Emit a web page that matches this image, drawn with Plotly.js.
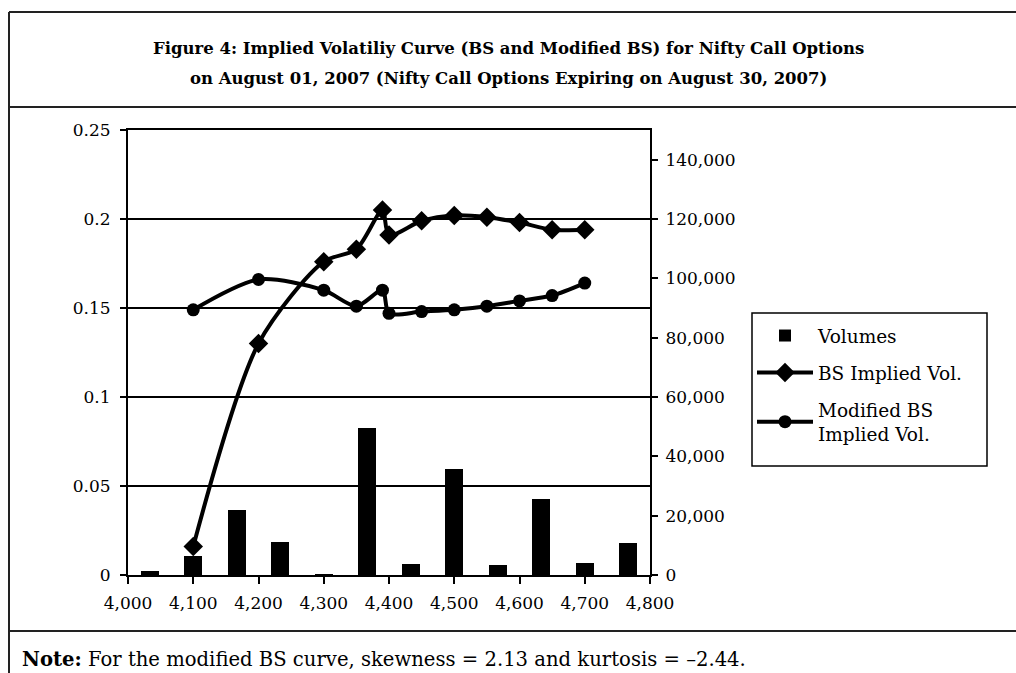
<!DOCTYPE html>
<html>
<head>
<meta charset="utf-8">
<script src="https://cdn.plot.ly/plotly-3.0.1.min.js"></script>
<style>
html,body{margin:0;padding:0;background:#fff;}
#chart{width:1016px;height:673px;}
</style>
</head>
<body>
<div id="chart"></div>
<script>
// Strike prices (Nifty call options)
var strikes = [4100, 4200, 4300, 4350, 4390, 4400, 4450, 4500, 4550, 4600, 4650, 4700];
// BS implied volatility
var bsVol = [0.016, 0.130, 0.176, 0.183, 0.205, 0.191, 0.199, 0.202, 0.201, 0.198, 0.194, 0.194];
// Modified BS implied volatility
var modVol = [0.149, 0.166, 0.160, 0.151, 0.160, 0.147, 0.148, 0.149, 0.151, 0.154, 0.157, 0.164];
// Traded volumes (one bar per strike, drawn on a category axis)
var volumes = [1500, 6400, 21800, 11000, 400, 49400, 3700, 35900, 3400, 25700, 4000, 10900];
var strikeLabels = strikes.map(function (s) { return String(s); });

var titleLine1 = "Figure 4: Implied Volatiliy Curve (BS and Modified BS) for Nifty Call Options";
var titleLine2 = "on August 01, 2007 (Nifty Call Options Expiring on August 30, 2007)";
var noteText = "<b>Note:</b> For the modified BS curve, skewness = 2.13 and kurtosis = \u20132.44.";

var FONT = "DejaVu Serif, Liberation Serif, serif";

// plot area in px: left 128, right 650, top 130, bottom 575
var L = 128, R = 650, T = 130, B = 575;
function px(x) { return (x - L) / (R - L); }
function py(y) { return (B - y) / (B - T); }

var traces = [
  {
    type: 'bar', name: 'Volumes',
    x: strikeLabels, y: volumes,
    xaxis: 'x', yaxis: 'y',
    width: 0.42,
    marker: { color: '#000', line: { width: 0 } },
    legendgroup: 'a'
  },
  {
    type: 'scatter', mode: 'lines+markers', name: 'BS Implied Vol.',
    x: strikes, y: bsVol,
    xaxis: 'x2', yaxis: 'y2',
    line: { color: '#000', width: 4, shape: 'spline', smoothing: 0.8 },
    marker: { symbol: 'diamond', size: 15, color: '#000' },
    legendgroup: 'b'
  },
  {
    type: 'scatter', mode: 'lines+markers', name: 'Modified BS<br>Implied Vol.',
    x: strikes, y: modVol,
    xaxis: 'x2', yaxis: 'y2',
    line: { color: '#000', width: 4, shape: 'spline', smoothing: 0.8 },
    marker: { symbol: 'circle', size: 13, color: '#000' },
    legendgroup: 'c'
  }
];

var tickFont = { family: FONT, size: 17, color: '#000' };

var layout = {
  width: 1016, height: 673,
  paper_bgcolor: '#fff', plot_bgcolor: '#fff',
  margin: { l: L, r: 1016 - R, t: T, b: 673 - B, pad: 0 },
  showlegend: true,
  bargap: 0,
  xaxis: {
    type: 'category', range: [-0.5, 11.5], visible: false,
    fixedrange: true
  },
  yaxis: {
    side: 'right', range: [0, 150000], dtick: 20000, tick0: 0,
    tickformat: ',d', showgrid: false, zeroline: false,
    showline: true, linecolor: '#000', linewidth: 2,
    ticks: 'outside', ticklen: 6, tickwidth: 2, tickcolor: '#000',
    tickfont: tickFont, ticklabelstandoff: 4
  },
  xaxis2: {
    overlaying: 'x', anchor: 'y2', side: 'bottom',
    range: [4000, 4800], dtick: 100, tick0: 4000, tickformat: ',d',
    showgrid: false, zeroline: false,
    showline: true, mirror: true, linecolor: '#000', linewidth: 2,
    ticks: 'outside', ticklen: 7, tickwidth: 2, tickcolor: '#000',
    tickfont: tickFont, ticklabelstandoff: 5
  },
  yaxis2: {
    overlaying: 'y', anchor: 'x2', side: 'left',
    range: [0, 0.25], dtick: 0.05, tick0: 0,
    showgrid: true, gridcolor: '#000', gridwidth: 1.5,
    zeroline: false,
    showline: true, linecolor: '#000', linewidth: 2,
    ticks: 'outside', ticklen: 6, tickwidth: 2, tickcolor: '#000',
    tickfont: tickFont, ticklabelstandoff: 6
  },
  legend: {
    x: px(752), y: py(317), xanchor: 'left', yanchor: 'top',
    borderwidth: 0, bgcolor: 'rgba(0,0,0,0)',
    font: { family: FONT, size: 18.5, color: '#000' },
    traceorder: 'grouped', tracegroupgap: 10,
    itemwidth: 56
  },
  shapes: [
    // legend box
    { type: 'rect', xref: 'paper', yref: 'paper', x0: px(752), x1: px(987), y0: py(313), y1: py(466), fillcolor: 'rgba(0,0,0,0)', line: { color: '#000', width: 1.5 }, layer: 'above' },
    // outer frame
    { type: 'line', xref: 'paper', yref: 'paper', x0: px(9), x1: px(1030), y0: py(12), y1: py(12), line: { color: '#222', width: 2 } },
    { type: 'line', xref: 'paper', yref: 'paper', x0: px(9), x1: px(9), y0: py(12), y1: py(690), line: { color: '#222', width: 2 } },
    { type: 'line', xref: 'paper', yref: 'paper', x0: px(9), x1: px(1030), y0: py(107), y1: py(107), line: { color: '#222', width: 2 } },
    { type: 'line', xref: 'paper', yref: 'paper', x0: px(9), x1: px(1030), y0: py(631), y1: py(631), line: { color: '#222', width: 2 } }
  ],
  annotations: [
    { text: '<b>' + titleLine1 + '</b>', xref: 'paper', yref: 'paper', x: px(508), y: py(48), xanchor: 'center', yanchor: 'middle', showarrow: false, font: { family: FONT, size: 16.5, color: '#000' } },
    { text: '<b>' + titleLine2 + '</b>', xref: 'paper', yref: 'paper', x: px(508), y: py(78), xanchor: 'center', yanchor: 'middle', showarrow: false, font: { family: FONT, size: 16.5, color: '#000' } },
    { text: noteText, xref: 'paper', yref: 'paper', x: px(20), y: py(659), xanchor: 'left', yanchor: 'middle', showarrow: false, font: { family: FONT, size: 19.6, color: '#000' } }
  ]
};

Plotly.newPlot('chart', traces, layout, { displayModeBar: false, staticPlot: true });
</script>
</body>
</html>
